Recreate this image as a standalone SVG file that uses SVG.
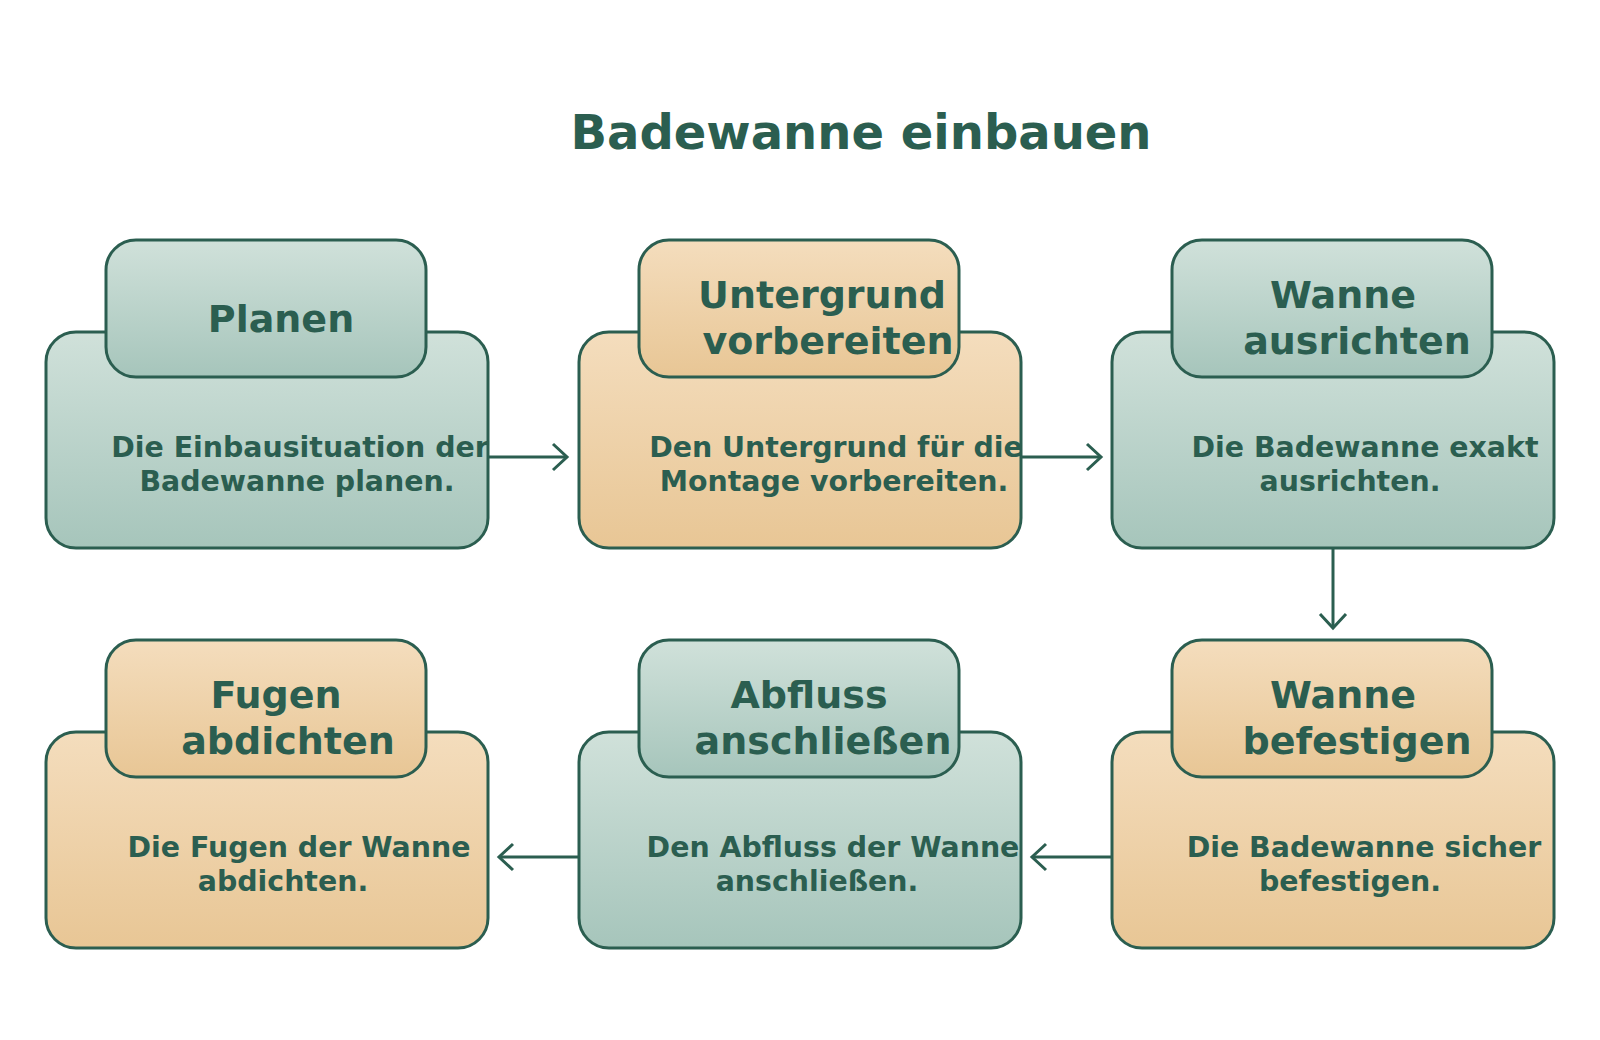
<svg xmlns="http://www.w3.org/2000/svg" width="1600" height="1040" viewBox="0 0 1600 1040">
<style>
.box{stroke:#2b5e50;stroke-width:3}
.g{fill:url(#gg)}
.p{fill:url(#gp)}
text{font-family:"DejaVu Sans","Liberation Sans",sans-serif;font-weight:bold;fill:#2b5e50;text-anchor:middle}
.t{font-size:38px}
.d{font-size:28.4px}
.h{font-size:48px}
.c{stroke:#2b5e50;stroke-width:3;fill:none}
</style>
<defs>
<linearGradient id="gg" x1="0" y1="0" x2="0" y2="1"><stop offset="0" stop-color="#d0e1da"/><stop offset="1" stop-color="#a6c5bb"/></linearGradient>
<linearGradient id="gp" x1="0" y1="0" x2="0" y2="1"><stop offset="0" stop-color="#f4ddbd"/><stop offset="1" stop-color="#e8c695"/></linearGradient>
<marker id="ah" markerUnits="userSpaceOnUse" markerWidth="40" markerHeight="40" refX="0" refY="0" viewBox="-20 -20 40 40" orient="auto" overflow="visible">
<path d="M-14,-13 L0,0 L-14,13" fill="none" stroke="#2b5e50" stroke-width="3"/>
</marker>
</defs>
<rect width="1600" height="1040" fill="#ffffff"/>
<text class="h" x="861" y="149">Badewanne einbauen</text>
<g id="connectors">
<path class="c" d="M488,457 H567" marker-end="url(#ah)"/>
<path class="c" d="M1021,457 H1101" marker-end="url(#ah)"/>
<path class="c" d="M1333,548 V628" marker-end="url(#ah)"/>
<path class="c" d="M1112,857 H1032" marker-end="url(#ah)"/>
<path class="c" d="M579,857 H499" marker-end="url(#ah)"/>
</g>
<g id="n1">
<rect class="box g" x="46" y="332" width="442" height="216" rx="30"/>
<rect class="box g" x="106" y="240" width="320" height="137" rx="30"/>
<text class="t" x="281" y="332">Planen</text>
<text class="d"><tspan x="300" y="457">Die Einbausituation der</tspan><tspan x="297" y="491">Badewanne planen.</tspan></text>
</g>
<g id="n2">
<rect class="box p" x="579" y="332" width="442" height="216" rx="30"/>
<rect class="box p" x="639" y="240" width="320" height="137" rx="30"/>
<text class="t"><tspan x="822" y="308">Untergrund</tspan><tspan x="828" y="354">vorbereiten</tspan></text>
<text class="d"><tspan x="836" y="457">Den Untergrund für die</tspan><tspan x="834" y="491">Montage vorbereiten.</tspan></text>
</g>
<g id="n3">
<rect class="box g" x="1112" y="332" width="442" height="216" rx="30"/>
<rect class="box g" x="1172" y="240" width="320" height="137" rx="30"/>
<text class="t"><tspan x="1343" y="308">Wanne</tspan><tspan x="1357" y="354">ausrichten</tspan></text>
<text class="d"><tspan x="1365" y="457">Die Badewanne exakt</tspan><tspan x="1350" y="491">ausrichten.</tspan></text>
</g>
<g id="n4">
<rect class="box p" x="1112" y="732" width="442" height="216" rx="30"/>
<rect class="box p" x="1172" y="640" width="320" height="137" rx="30"/>
<text class="t"><tspan x="1343" y="708">Wanne</tspan><tspan x="1357" y="754">befestigen</tspan></text>
<text class="d"><tspan x="1364" y="857">Die Badewanne sicher</tspan><tspan x="1350" y="891">befestigen.</tspan></text>
</g>
<g id="n5">
<rect class="box g" x="579" y="732" width="442" height="216" rx="30"/>
<rect class="box g" x="639" y="640" width="320" height="137" rx="30"/>
<text class="t"><tspan x="809" y="708">Abfluss</tspan><tspan x="823" y="754">anschließen</tspan></text>
<text class="d"><tspan x="833" y="857">Den Abfluss der Wanne</tspan><tspan x="817" y="891">anschließen.</tspan></text>
</g>
<g id="n6">
<rect class="box p" x="46" y="732" width="442" height="216" rx="30"/>
<rect class="box p" x="106" y="640" width="320" height="137" rx="30"/>
<text class="t"><tspan x="276" y="708">Fugen</tspan><tspan x="288" y="754">abdichten</tspan></text>
<text class="d"><tspan x="299" y="857">Die Fugen der Wanne</tspan><tspan x="283" y="891">abdichten.</tspan></text>
</g>
</svg>
